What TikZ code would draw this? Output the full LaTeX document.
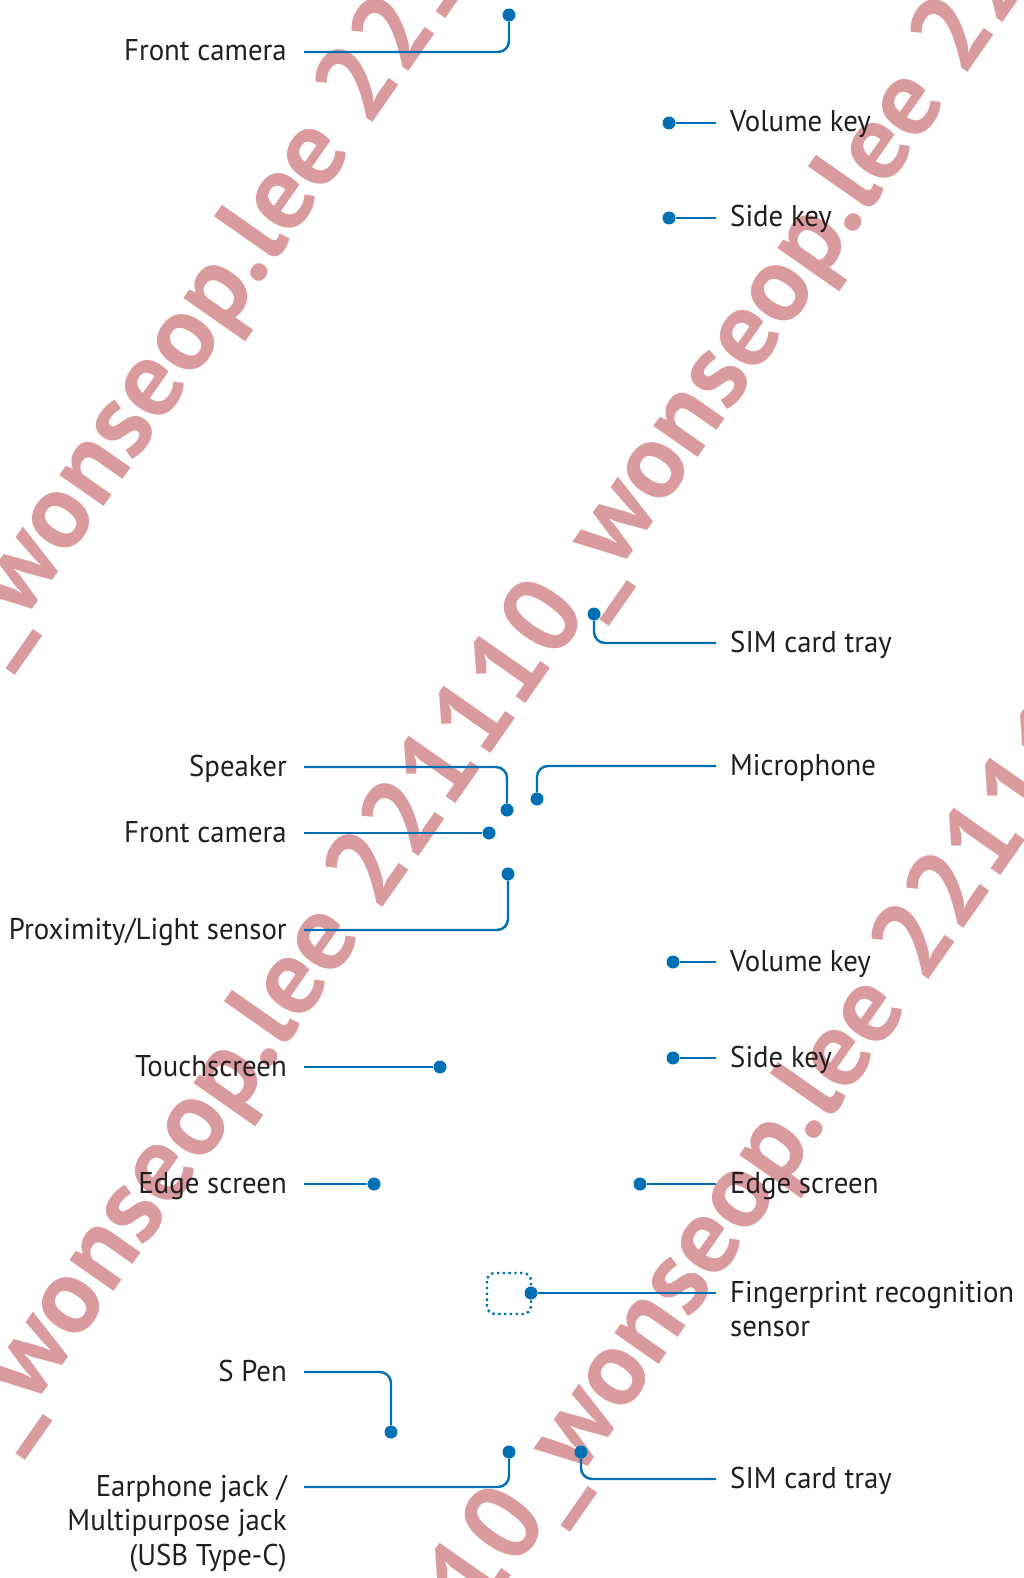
\documentclass[tikz,border=0pt]{standalone}
\usepackage{fontspec}
\setmainfont[FakeStretch=0.96]{PT Sans}
\newfontfamily\wmfont{PT Sans}
\definecolor{callblue}{RGB}{0,112,180}
\definecolor{textgray}{RGB}{35,31,32}
\definecolor{wmpink}{RGB}{218,155,158}

\begin{document}
\begin{tikzpicture}[x=1pt,y=-1pt]
        \tikzstyle{dot}=[circle,fill=callblue,inner sep=0pt,minimum size=13pt]
        \tikzstyle{lead}=[draw=callblue,line width=2.4pt,rounded corners=11pt]
        \tikzstyle{lblL}=[anchor=base east,inner sep=0pt,xshift=-17pt,yshift=-9pt,text=textgray,font=\fontsize{30}{34.5}\selectfont]
        \tikzstyle{lblR}=[anchor=base west,inner sep=0pt,xshift=14pt,yshift=-9pt,text=textgray,font=\fontsize{30}{34.5}\selectfont]
        \tikzstyle{wmark}=[anchor=base west,inner sep=0pt,rotate=55,text=wmpink,font=\wmfont\bfseries\fontsize{108}{108}\selectfont]
        \tikzstyle{fpbox}=[draw=callblue,line width=2.4pt,dash pattern=on 2.4pt off 3.4pt,rounded corners=8pt]

        \useasboundingbox (0,0) rectangle (1024,1578);

        % watermark
        \begin{scope}
          \clip (0,0) rectangle (1024,1578);
          \node[wmark] (wmA) at (-5,662)  {\_wonseop.lee 221110\_wonseop.lee 221110};
          \node[wmark] (wmB) at (5,1447)  {\_wonseop.lee 221110\_wonseop.lee 221110};
          \node[wmark] (wmC) at (340,1820) {221110\_wonseop.lee 221110\_wonseop.lee};
        \end{scope}

        % top view
        \coordinate (fcamA) at (304,52);
        \node[dot] (fcamAdot) at (509,15) {};
        \node[lblL] (fcamAlbl) at (fcamA) {Front camera};
        \draw[lead] (fcamA) -| (fcamAdot);

        \coordinate (volA) at (716,123);
        \node[dot] (volAdot) at (669,123) {};
        \node[lblR] (volAlbl) at (volA) {Volume key};
        \draw[lead] (volAdot) -- (volA);

        \coordinate (sideA) at (716,218);
        \node[dot] (sideAdot) at (669,218) {};
        \node[lblR] (sideAlbl) at (sideA) {Side key};
        \draw[lead] (sideAdot) -- (sideA);

        \coordinate (simA) at (716,643);
        \node[dot] (simAdot) at (594,614) {};
        \node[lblR] (simAlbl) at (simA) {SIM card tray};
        \draw[lead] (simA) -| (simAdot);

        % front view
        \coordinate (spk) at (304,767);
        \node[dot] (spkdot) at (507,810) {};
        \node[lblL] (spklbl) at (spk) {Speaker};
        \draw[lead] (spk) -| (spkdot);

        \coordinate (mic) at (716,766);
        \node[dot] (micdot) at (537,799) {};
        \node[lblR] (miclbl) at (mic) {Microphone};
        \draw[lead] (mic) -| (micdot);

        \coordinate (fcamB) at (304,833);
        \node[dot] (fcamBdot) at (489,833) {};
        \node[lblL] (fcamBlbl) at (fcamB) {Front camera};
        \draw[lead] (fcamB) -- (fcamBdot);

        \coordinate (prox) at (304,930);
        \node[dot] (proxdot) at (508,874) {};
        \node[lblL] (proxlbl) at (prox) {Proximity/Light sensor};
        \draw[lead] (prox) -| (proxdot);

        \coordinate (volB) at (716,962);
        \node[dot] (volBdot) at (673,962) {};
        \node[lblR] (volBlbl) at (volB) {Volume key};
        \draw[lead] (volBdot) -- (volB);

        \coordinate (sideB) at (716,1058);
        \node[dot] (sideBdot) at (673,1058) {};
        \node[lblR] (sideBlbl) at (sideB) {Side key};
        \draw[lead] (sideBdot) -- (sideB);

        \coordinate (touch) at (304,1067);
        \node[dot] (touchdot) at (440,1067) {};
        \node[lblL] (touchlbl) at (touch) {Touchscreen};
        \draw[lead] (touch) -- (touchdot);

        \coordinate (edgeL) at (304,1184);
        \node[dot] (edgeLdot) at (374,1184) {};
        \node[lblL] (edgeLlbl) at (edgeL) {Edge screen};
        \draw[lead] (edgeL) -- (edgeLdot);

        \coordinate (edgeR) at (716,1184);
        \node[dot] (edgeRdot) at (640,1184) {};
        \node[lblR] (edgeRlbl) at (edgeR) {Edge screen};
        \draw[lead] (edgeRdot) -- (edgeR);

        % back view
        \draw[fpbox] (487,1273) rectangle (531,1314);
        \coordinate (fing) at (716,1293);
        \node[dot] (fingdot) at (531,1293) {};
        \node[lblR] (finglbl) at (fing) {\begin{tabular}[t]{@{}l@{}}Fingerprint recognition\\ sensor\end{tabular}};
        \draw[lead] (fingdot) -- (fing);

        \coordinate (spen) at (304,1372);
        \node[dot] (spendot) at (391,1432) {};
        \node[lblL] (spenlbl) at (spen) {S Pen};
        \draw[lead] (spen) -| (spendot);

        \coordinate (jack) at (304,1487);
        \node[dot] (jackdot) at (509,1452) {};
        \node[lblL] (jacklbl) at (jack) {\begin{tabular}[t]{@{}r@{}}Earphone jack /\\ Multipurpose jack\\ (USB Type-C)\end{tabular}};
        \draw[lead] (jack) -| (jackdot);

        \coordinate (simB) at (716,1479);
        \node[dot] (simBdot) at (581,1452) {};
        \node[lblR] (simBlbl) at (simB) {SIM card tray};
        \draw[lead] (simB) -| (simBdot);
\end{tikzpicture}
\end{document}
